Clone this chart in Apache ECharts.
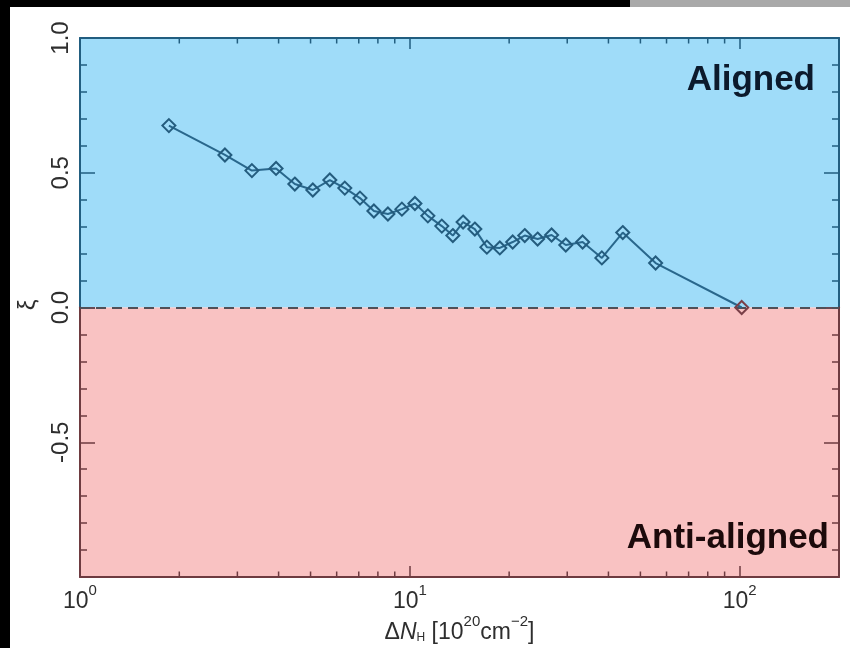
<!DOCTYPE html>
<html>
<head>
<meta charset="utf-8">
<script src="https://cdn.jsdelivr.net/npm/echarts@6/dist/echarts.min.js"></script>
<style>
  html, body { margin: 0; padding: 0; background: #ffffff; }
  #chart { width: 850px; height: 648px; }
</style>
</head>
<body>
<div id="chart"></div>
<script>
// Alignment parameter xi versus column-density difference ΔN_H (in 10^20 cm^-2)
const deltaNH = [1.86, 2.75, 3.32, 3.93, 4.48, 5.08, 5.72, 6.35, 7.06, 7.78,
                 8.58, 9.46, 10.36, 11.34, 12.5, 13.5, 14.5, 15.74, 17.12, 18.74,
                 20.5, 22.3, 24.4, 26.9, 29.7, 33.4, 38.2, 44.2, 55.6, 101.4];
const xiValues = [0.675, 0.566, 0.508, 0.516, 0.458, 0.436, 0.473, 0.443, 0.406, 0.358,
                  0.347, 0.365, 0.386, 0.340, 0.302, 0.267, 0.317, 0.291, 0.224, 0.221,
                  0.243, 0.267, 0.254, 0.269, 0.232, 0.243, 0.184, 0.278, 0.165, 0.0];

// Axis ticks and labels
const xDecades = [1, 10, 100];
const xDecadeLabels = ['{b|10}{s|0}', '{b|10}{s|1}', '{b|10}{s|2}'];
const xMinorTicks = [2, 3, 4, 5, 6, 7, 8, 9, 20, 30, 40, 50, 60, 70, 80, 90];
const regionLabels = ['Aligned', 'Anti-aligned'];

const FONT = 'Liberation Sans';
const BLUE_FILL = '#9fdcf9';
const PINK_FILL = '#f9c2c2';
const BLUE_EDGE = '#225e80';
const RED_EDGE = '#6e3b40';
const LINE_COLOR = '#29678c';
const TEXT = '#2e2e2e';

const chart = echarts.init(document.getElementById('chart'), null, { renderer: 'canvas' });

const points = deltaNH.map((x, i) => {
  const item = { value: [x, xiValues[i]] };
  if (xiValues[i] <= 0) item.itemStyle = { borderColor: '#7a3f48' };
  return item;
});

const superRich = {
  b: { fontSize: 23, fontFamily: FONT, color: TEXT, lineHeight: 30, verticalAlign: 'bottom' },
  i: { fontSize: 23, fontFamily: FONT, fontStyle: 'italic', color: TEXT, lineHeight: 30, verticalAlign: 'bottom' },
  h: { fontSize: 12, fontFamily: FONT, color: TEXT, verticalAlign: 'bottom', lineHeight: 16 },
  s: { fontSize: 15, fontFamily: FONT, color: TEXT, verticalAlign: 'top', lineHeight: 16 }
};

function xAxisCfg(gridIndex, position, color, showLabels) {
  return {
    type: 'log', logBase: 10, gridIndex, position, min: 1, max: 200,
    axisLine: { show: true, onZero: false, lineStyle: { color, width: 2 } },
    axisTick: { show: true, inside: true, length: 11, lineStyle: { color, width: 1.5 } },
    minorTick: { show: false },
    splitLine: { show: false },
    axisLabel: showLabels ? {
      show: true, margin: 6, color: TEXT, fontFamily: FONT, fontSize: 23,
      formatter: v => {
        const k = xDecades.findIndex(d => Math.abs(d - v) / d < 1e-6);
        return k >= 0 ? xDecadeLabels[k] : '';
      },
      rich: superRich
    } : { show: false }
  };
}

function yAxisCfg(gridIndex, position, min, max, color, showLabels, hidden) {
  return {
    type: 'value', gridIndex, position, min, max, interval: 0.5,
    axisLine: { show: true, onZero: false, lineStyle: { color, width: 2 } },
    axisTick: { show: true, inside: true, length: 15, lineStyle: { color, width: 1.5 } },
    minorTick: { show: true, splitNumber: 5, length: 7, lineStyle: { color, width: 1.5 } },
    splitLine: { show: false },
    axisLabel: showLabels ? {
      show: true, rotate: 90, margin: 7, color: TEXT, fontFamily: FONT, fontSize: 24,
      formatter: v => (hidden.some(h => Math.abs(h - v) < 1e-9) ? '' : v.toFixed(1))
    } : { show: false }
  };
}

function minorTickSeries(xAxisIndex, yAxisIndex, edgeY, dir, color) {
  return {
    type: 'custom', xAxisIndex, yAxisIndex, silent: true, clip: false, z: 4,
    data: xMinorTicks.map(v => [v, edgeY]),
    renderItem(params, api) {
      const p = api.coord([api.value(0), api.value(1)]);
      return {
        type: 'line',
        shape: { x1: p[0], y1: p[1], x2: p[0], y2: p[1] + dir * 5.5 },
        style: { stroke: color, lineWidth: 1.5 }
      };
    }
  };
}

const option = {
  animation: false,
  backgroundColor: '#ffffff',
  grid: [
    { left: 80, right: 11, top: 38, bottom: 340.5, show: true, backgroundColor: BLUE_FILL, borderWidth: 0 },
    { left: 80, right: 11, top: 307.5, bottom: 71, show: true, backgroundColor: PINK_FILL, borderWidth: 0 }
  ],
  xAxis: [
    xAxisCfg(0, 'top', BLUE_EDGE, false),
    Object.assign(xAxisCfg(1, 'bottom', RED_EDGE, true), {
      name: '{b|Δ}{i|N}{h|H} {b|[10}{s|20}{b|cm}{s|−2}{b|]}',
      nameLocation: 'middle', nameGap: 34,
      nameTextStyle: { fontFamily: FONT, color: TEXT, fontSize: 23, rich: superRich }
    })
  ],
  yAxis: [
    yAxisCfg(0, 'left', 0, 1, BLUE_EDGE, true, []),
    yAxisCfg(0, 'right', 0, 1, BLUE_EDGE, false, []),
    yAxisCfg(1, 'left', -1, 0, RED_EDGE, true, [-1, 0]),
    yAxisCfg(1, 'right', -1, 0, RED_EDGE, false, [])
  ],
  graphic: [
    { type: 'rect', silent: true, z: 100, shape: { x: 0, y: 0, width: 850, height: 7 }, style: { fill: '#000' } },
    { type: 'rect', silent: true, z: 100, shape: { x: 630, y: 0, width: 220, height: 7 }, style: { fill: '#a9a9a9' } },
    { type: 'rect', silent: true, z: 100, shape: { x: 0, y: 0, width: 10, height: 648 }, style: { fill: '#000' } },
    {
      type: 'text', silent: true, z: 50, x: 28, y: 305, rotation: Math.PI / 2,
      style: { text: 'ξ', fill: TEXT, font: '24px ' + FONT, align: 'center', verticalAlign: 'middle' }
    },
    {
      type: 'text', silent: true, z: 50, x: 815, y: 80,
      style: { text: regionLabels[0], fill: '#0c1a2c', font: 'bold 35px ' + FONT, align: 'right', verticalAlign: 'middle' }
    },
    {
      type: 'text', silent: true, z: 50, x: 829, y: 538,
      style: { text: regionLabels[1], fill: '#1c0a0b', font: 'bold 35px ' + FONT, align: 'right', verticalAlign: 'middle' }
    }
  ],
  series: [
    {
      type: 'line', xAxisIndex: 0, yAxisIndex: 0, clip: false, z: 6,
      data: points,
      symbol: 'diamond', symbolSize: 13, showSymbol: true,
      lineStyle: { color: LINE_COLOR, width: 2 },
      itemStyle: { color: 'rgba(0,0,0,0)', borderColor: '#245c7e', borderWidth: 2 },
      emphasis: { disabled: true },
      markLine: {
        silent: true, symbol: ['none', 'none'], label: { show: false },
        lineStyle: { color: '#505058', type: [10, 6], width: 2.2 },
        data: [{ yAxis: 0 }]
      }
    },
    minorTickSeries(0, 0, 1, 1, BLUE_EDGE),
    minorTickSeries(1, 2, -1, -1, RED_EDGE)
  ]
};

chart.setOption(option);
</script>
</body>
</html>
